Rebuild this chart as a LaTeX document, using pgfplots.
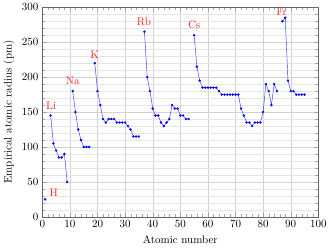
\documentclass[border=0pt]{standalone}
\usepackage{pgfplots}
\pgfplotsset{compat=1.18}
\begin{document}
\begin{tikzpicture}
\begin{axis}[
  scale only axis,
  width=251pt, height=190.6pt,
  xmin=0, xmax=100, ymin=0, ymax=300,
  xtick={0,10,...,100}, ytick={0,50,...,300},
  minor x tick num=4, minor y tick num=4,
  grid=both,
  major grid style={gray!35, line width=0.4pt},
  minor grid style={gray!20, line width=0.4pt},
  xminorgrids=false,
  axis line style={gray!80!black},
  tick style={gray!70},
  xlabel={Atomic number},
  ylabel={Empirical atomic radius (pm)},
  unbounded coords=jump,
  clip=false,
]
\addplot[blue!80, line width=0.4pt, mark=*, mark size=0.9pt, mark options={fill=blue, draw=blue}] coordinates {
(1,25) (2,nan)
(3,145) (4,105) (5,95) (6,85) (7,85) (8,90) (9,50) (10,nan)
(11,180) (12,150) (13,125) (14,110) (15,100) (16,100) (17,100) (18,nan)
(19,220) (20,180) (21,160) (22,140) (23,135) (24,140) (25,140) (26,140) (27,135) (28,135) (29,135) (30,135) (31,130) (32,125) (33,115) (34,115) (35,115) (36,nan)
(37,265) (38,200) (39,180) (40,155) (41,145) (42,145) (43,135) (44,130) (45,135) (46,140) (47,160) (48,155) (49,155) (50,145) (51,145) (52,140) (53,140) (54,nan)
(55,260) (56,215) (57,195) (58,185) (59,185) (60,185) (61,185) (62,185) (63,185) (64,180) (65,175) (66,175) (67,175) (68,175) (69,175) (70,175) (71,175) (72,155) (73,145) (74,135) (75,135) (76,130) (77,135) (78,135) (79,135) (80,150) (81,190) (82,180) (83,160) (84,190) (85,180) (86,nan)
(87,280) (88,285) (89,195) (90,180) (91,180) (92,175) (93,175) (94,175) (95,175)
};
\node[red!85, anchor=south] at (axis cs:3.2,148) {Li};
\node[red!85] at (axis cs:4.1,35) {H};
\node[red!85, anchor=south] at (axis cs:11,183) {Na};
\node[red!85, anchor=south] at (axis cs:19,221) {K};
\node[red!85, anchor=south] at (axis cs:36.8,268) {Rb};
\node[red!85, anchor=south] at (axis cs:55,263) {Cs};
\node[red!85, anchor=south] at (axis cs:86.7,282) {Fr};
\end{axis}
\pgfresetboundingbox
\useasboundingbox ([shift={(-38.5pt,-29.1pt)}]current axis.south west) rectangle ([shift={(10.6pt,6.6pt)}]current axis.north east);
\end{tikzpicture}
\end{document}
